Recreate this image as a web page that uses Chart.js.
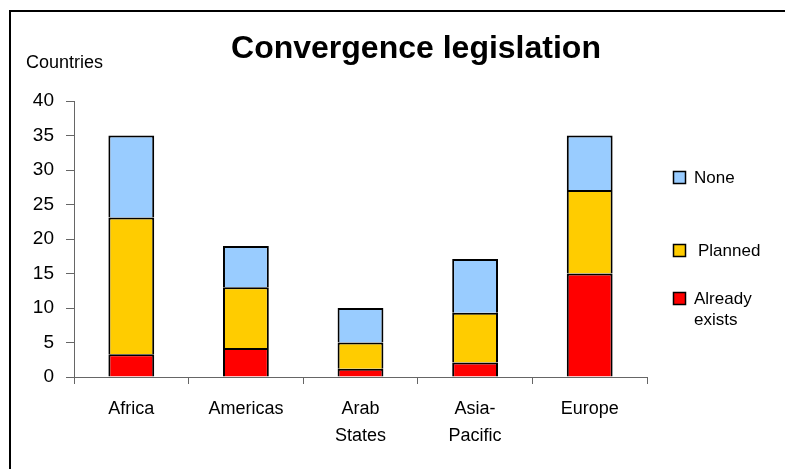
<!DOCTYPE html>
<html>
<head>
<meta charset="utf-8">
<script src="https://cdn.jsdelivr.net/npm/chart.js@4/dist/chart.umd.min.js"></script>
<style>
    html, body { margin: 0; padding: 0; background: #fff; overflow: hidden; }
    #wrap { position: relative; width: 785px; height: 469px; }
</style>
</head>
<body>
<div id="wrap"><canvas id="chart" width="785" height="469"></canvas></div>
<script>
// --- data ---
const regions = ['Africa', 'Americas', ['Arab', 'States'], ['Asia-', 'Pacific'], 'Europe'];
const alreadyExists = [3.3, 4.2, 1.2, 2.1, 15];
const planned = [19.8, 8.8, 3.8, 7.2, 12.1];
const none = [11.9, 6, 5, 7.8, 7.9];
const yTicks = [0, 5, 10, 15, 20, 25, 30, 35, 40];

const FONT = "'Liberation Sans', Arial, sans-serif";

// title, axis caption, legend and frame drawn on top of the chart
const decorations = {
    id: 'decorations',
    afterDraw(chart) {
        const ctx = chart.ctx;
        ctx.save();

        // outer frame (runs off the right and bottom edges)
        ctx.strokeStyle = '#000';
        ctx.lineWidth = 2;
        ctx.strokeRect(10, 11, 800, 480);

        ctx.fillStyle = '#000';
        ctx.textBaseline = 'alphabetic';

        ctx.font = `bold 32px ${FONT}`;
        ctx.textAlign = 'center';
        ctx.fillText('Convergence legislation', 416, 58);

        ctx.font = `18px ${FONT}`;
        ctx.textAlign = 'left';
        ctx.fillText('Countries', 26, 68);

        // legend
        const items = [
            { color: '#99CCFF', y: 171, lines: ['None'], tx: 694 },
            { color: '#FFCC00', y: 244, lines: ['Planned'], tx: 698 },
            { color: '#FF0000', y: 292, lines: ['Already', 'exists'], tx: 694 }
        ];
        items.forEach(it => {
            ctx.fillStyle = it.color;
            ctx.fillRect(673, it.y, 12, 12);
            ctx.strokeStyle = '#000';
            ctx.lineWidth = 1.5;
            ctx.strokeRect(673.5, it.y + 0.5, 12, 12);
            ctx.fillStyle = '#000';
            ctx.font = `17px ${FONT}`;
            it.lines.forEach((ln, i) => {
                ctx.fillText(ln, it.tx, it.y + 12 + i * 21);
            });
        });

        ctx.restore();
    }
};

const barStyle = { borderColor: '#000', borderWidth: 2, barPercentage: 0.4, categoryPercentage: 1 };

new Chart(document.getElementById('chart').getContext('2d'), {
    type: 'bar',
    data: {
        labels: regions,
        datasets: [
            { label: 'Already exists', data: alreadyExists, backgroundColor: '#FF0000', ...barStyle },
            { label: 'Planned', data: planned, backgroundColor: '#FFCC00', ...barStyle },
            { label: 'None', data: none, backgroundColor: '#99CCFF', ...barStyle }
        ]
    },
    options: {
        responsive: false,
        animation: false,
        layout: { padding: { top: 101, right: 138, bottom: 0, left: 0 } },
        plugins: {
            legend: { display: false },
            title: { display: false },
            tooltip: { enabled: false }
        },
        scales: {
            x: {
                stacked: true,
                afterFit: s => { s.height = 92; },
                grid: { drawOnChartArea: false, drawTicks: true, tickLength: 7, color: '#666' },
                border: { color: '#666', width: 1 },
                ticks: { color: '#000', font: { family: FONT, size: 18, lineHeight: 1.48 }, padding: 12, maxRotation: 0 }
            },
            y: {
                stacked: true,
                min: 0,
                max: 40,
                afterFit: s => { s.width = 74; },
                afterBuildTicks: s => { s.ticks = yTicks.map(v => ({ value: v })); },
                grid: { drawOnChartArea: false, drawTicks: true, tickLength: 8, color: '#666' },
                border: { color: '#666', width: 1 },
                ticks: { color: '#000', font: { family: FONT, size: 19 }, padding: 12 }
            }
        }
    },
    plugins: [decorations]
});
</script>
</body>
</html>
